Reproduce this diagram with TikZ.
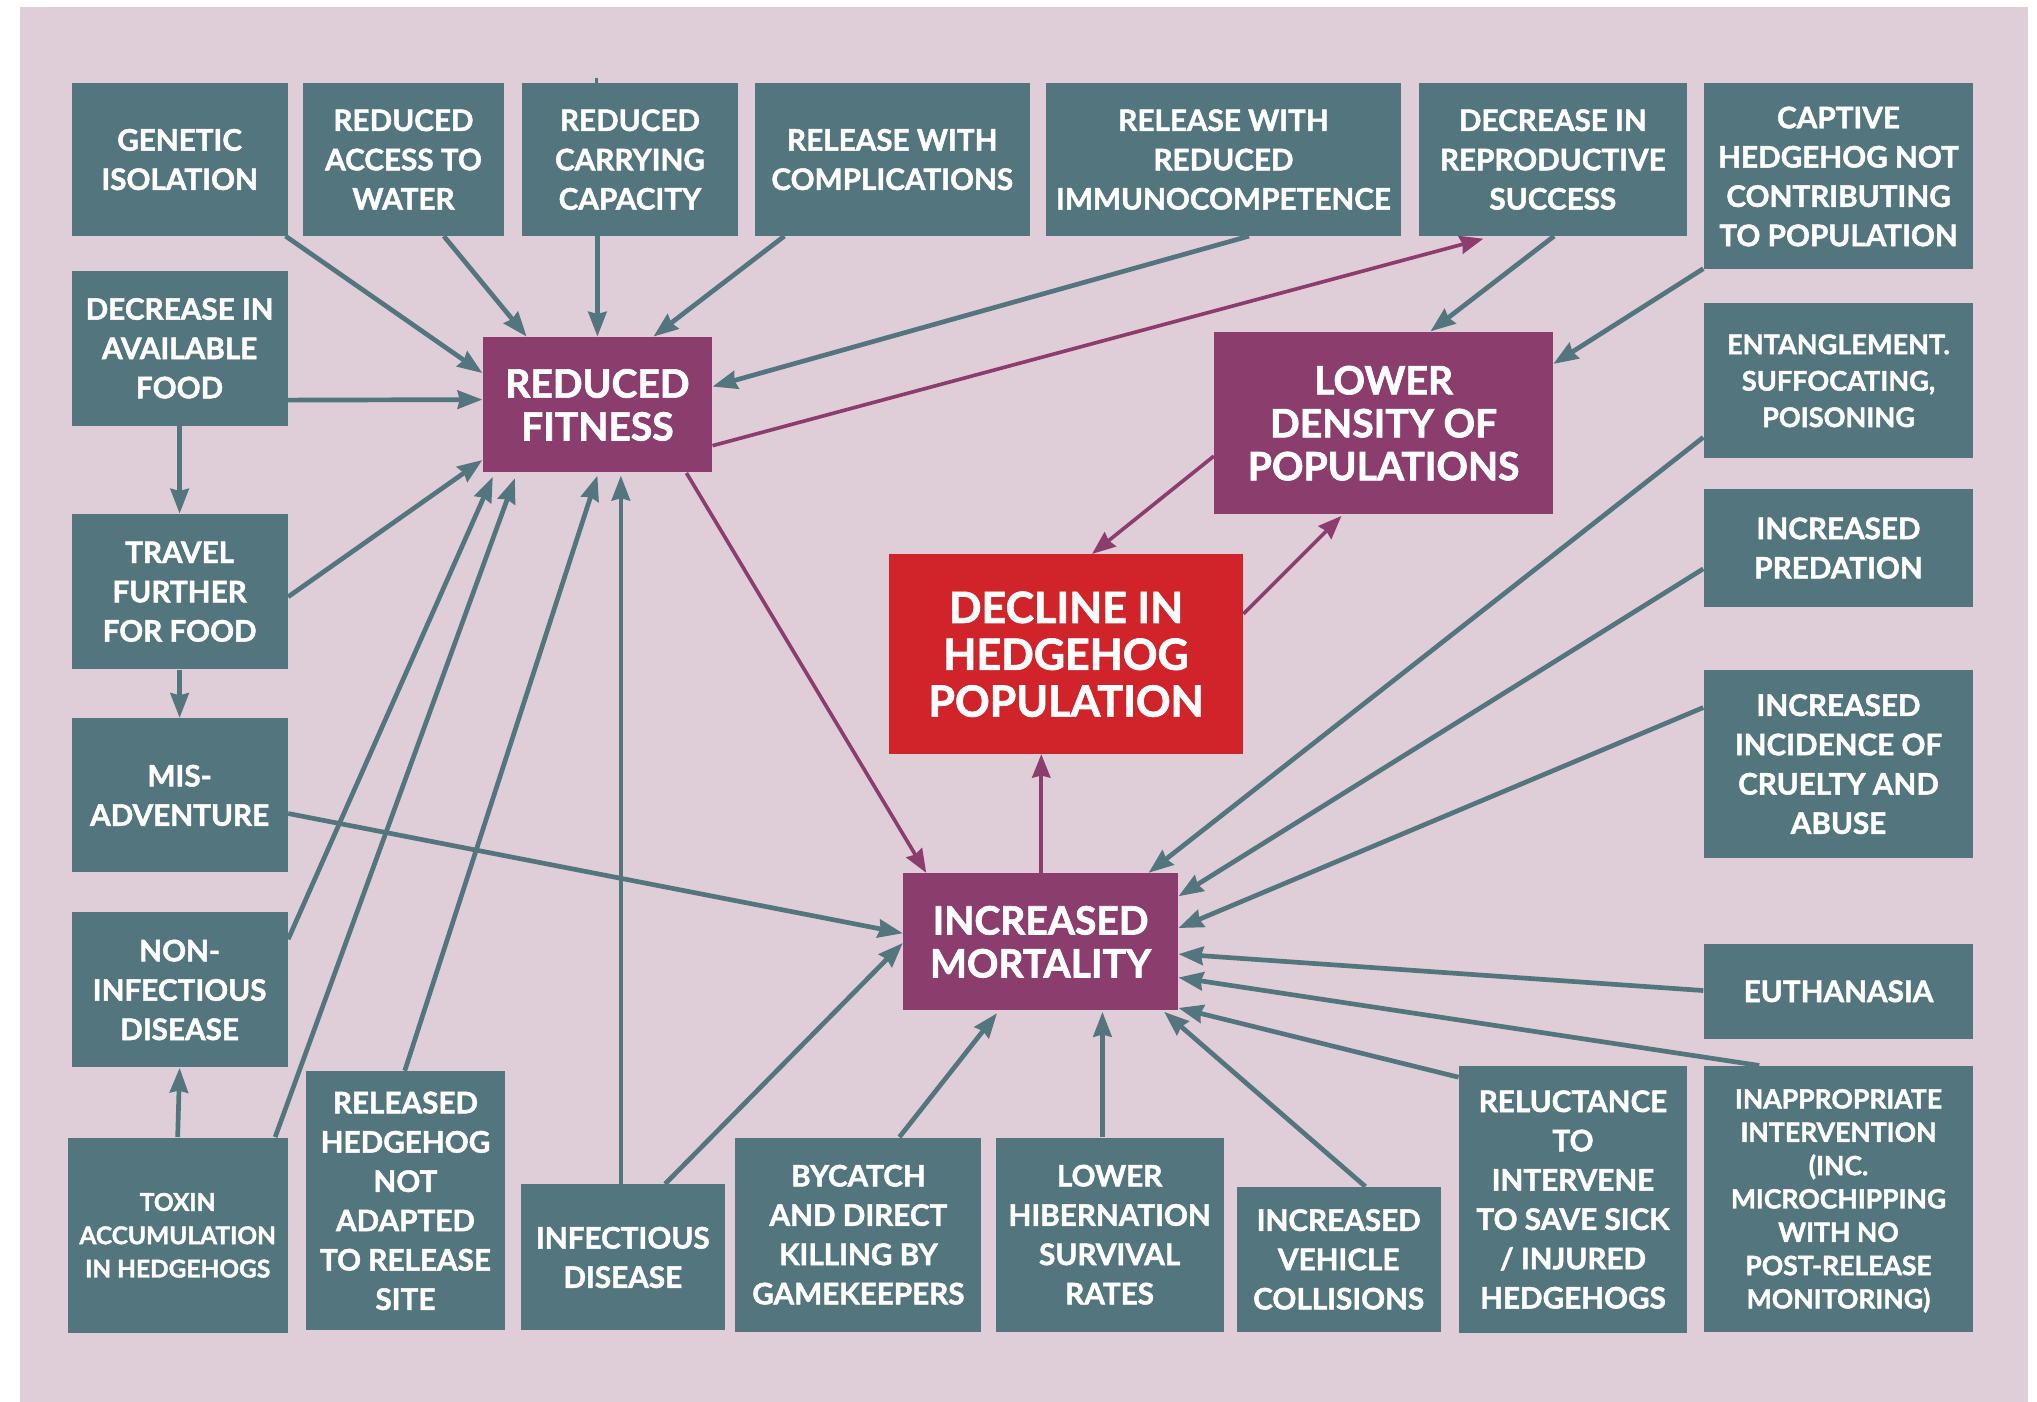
\documentclass[tikz,border=0pt]{standalone}
\usepackage{fontspec}
\setmainfont{Lato}[BoldFeatures={FakeBold=1.6}]
\usetikzlibrary{arrows.meta,calc}
\definecolor{bgp}{RGB}{223,205,216}
\definecolor{tl}{RGB}{82,117,126}
\definecolor{pu}{RGB}{139,62,110}
\definecolor{rd}{RGB}{209,35,42}
\tikzset{
 box/.style={fill=tl,text=white,align=center,inner sep=0pt,text depth=0pt,font=\bfseries\fontsize{11.4}{15.1}\selectfont},
 sbox/.style={box,font=\bfseries\fontsize{9.4}{12.8}\selectfont},
 ibox/.style={box,font=\bfseries\fontsize{10.2}{12.8}\selectfont},
 ebox/.style={box,font=\bfseries\fontsize{10.4}{14}\selectfont},
 pbox/.style={fill=pu,text=white,align=center,inner sep=0pt,text depth=0pt,font=\bfseries\fontsize{15}{16.5}\selectfont},
 rbox/.style={fill=rd,text=white,align=center,inner sep=0pt,text depth=0pt,font=\bfseries\fontsize{16.5}{18}\selectfont},
 ta/.style={draw=tl,line width=1.8pt,-{Stealth[length=9.5pt,width=7pt,inset=0.8pt]}},
 pa/.style={draw=pu,line width=1.4pt,-{Stealth[length=9pt,width=7pt,inset=0.8pt]}},
}
\newcommand{\bx}[7]{\node[#6,minimum width={(#4-#2)*0.5pt},minimum height={(#5-#3)*0.5pt}] (#1) at ({(#2+#4)/2},{(#3+#5)/2}) {#7};}
\begin{document}
\begin{tikzpicture}[x=0.5pt,y=-0.5pt]
\useasboundingbox (0,0) rectangle (1565,1077);
\fill[white] (0,0) rectangle (1565,1077);
\fill[bgp] (15,5) rectangle (1558,1077);
% top row
\bx{gen}{55}{64}{221}{181}{box}{GENETIC\\ISOLATION}
\bx{wat}{233}{64}{387}{181}{box}{REDUCED\\ACCESS TO\\WATER}
\bx{car}{401}{64}{567}{181}{box}{REDUCED\\CARRYING\\CAPACITY}
\bx{com}{580}{64}{791}{181}{box}{RELEASE WITH\\COMPLICATIONS}
\bx{imm}{804}{64}{1076}{181}{box}{RELEASE WITH\\REDUCED\\IMMUNOCOMPETENCE}
\bx{rep}{1090}{64}{1296}{181}{box}{DECREASE IN\\REPRODUCTIVE\\SUCCESS}
\bx{cap}{1309}{64}{1516}{207}{box}{CAPTIVE\\HEDGEHOG NOT\\CONTRIBUTING\\TO POPULATION}
% right column
\bx{ent}{1309}{233}{1516}{352}{ebox}{ENTANGLEMENT.\\SUFFOCATING,\\POISONING}
\bx{pred}{1309}{376}{1516}{466}{box}{INCREASED\\PREDATION}
\bx{cru}{1309}{515}{1516}{659}{box}{INCREASED\\INCIDENCE OF\\CRUELTY AND\\ABUSE}
\bx{eut}{1309}{725}{1516}{798}{box}{EUTHANASIA}
\bx{inap}{1309}{819}{1516}{1023}{ibox}{INAPPROPRIATE\\INTERVENTION\\(INC.\\MICROCHIPPING\\WITH NO\\POST-RELEASE\\MONITORING)}
% bottom row
\bx{rel}{1121}{819}{1296}{1024}{box}{RELUCTANCE\\TO\\INTERVENE\\TO SAVE SICK\\/ INJURED\\HEDGEHOGS}
\bx{veh}{950}{912}{1107}{1023}{box}{INCREASED\\VEHICLE\\COLLISIONS}
\bx{hib}{765}{874}{940}{1023}{box}{LOWER\\HIBERNATION\\SURVIVAL\\RATES}
\bx{byc}{565}{874}{754}{1023}{box}{BYCATCH\\AND DIRECT\\KILLING BY\\GAMEKEEPERS}
\bx{inf}{400}{910}{557}{1022}{box}{INFECTIOUS\\DISEASE}
\bx{rhn}{235}{823}{388}{1022}{box}{RELEASED\\HEDGEHOG\\NOT\\ADAPTED\\TO RELEASE\\SITE}
\bx{tox}{52}{874}{221}{1024}{sbox}{TOXIN\\ACCUMULATION\\IN HEDGEHOGS}
% left column
\bx{non}{55}{701}{221}{820}{box}{NON-\\INFECTIOUS\\DISEASE}
\bx{mis}{55}{552}{221}{670}{box}{MIS-\\ADVENTURE}
\bx{trv}{55}{395}{221}{514}{box}{TRAVEL\\FURTHER\\FOR FOOD}
\bx{food}{55}{208}{221}{327}{box}{DECREASE IN\\AVAILABLE\\FOOD}
% central
\bx{rf}{371}{259}{547}{363}{pbox}{REDUCED\\FITNESS}
\bx{ld}{933}{255}{1193}{395}{pbox}{LOWER\\DENSITY OF\\POPULATIONS}
\bx{dec}{683}{426}{955}{579}{rbox}{DECLINE IN\\HEDGEHOG\\POPULATION}
\bx{im}{694}{671}{905}{776}{pbox}{INCREASED\\MORTALITY}
% small tick above carrying capacity
\draw[tl,line width=1.2pt] ($(car.north)+(-26,0)$) -- ($(car.north)+(-26,-4)$);
% arrows into reduced fitness
\draw[ta] ($(gen.south east)+(-2,0)$) -- ($(rf.north west)+(0,28)$);
\draw[ta] ($(wat.south)+(31,0)$) -- ($(rf.north west)+(34,0)$);
\draw[ta] ($(car.south)+(-25,0)$) -- (rf.north);
\draw[ta] ($(com.south west)+(23,0)$) -- ($(rf.north)+(43,0)$);
\draw[ta] ($(imm.south west)+(156,0)$) -- ($(rf.east)+(0,-14)$);
\draw[ta] ($(food.south east)+(0,-20)$) -- ($(rf.west)+(0,-4)$);
\draw[ta] (food.south) -- (trv.north);
\draw[ta] ($(trv.east)+(0,4)$) -- ($(rf.south west)+(0,-10)$);
\draw[ta] (trv.south) -- (mis.north);
\draw[ta] ($(non.north east)+(0,21)$) -- ($(rf.south west)+(8,3)$);
\draw[ta] ($(tox.north east)+(-10,0)$) -- ($(rf.south west)+(25,4)$);
\draw[ta] (tox.north) -- (non.south);
\draw[ta] ($(rhn.north)+(-0.5,0)$) -- ($(rf.south)+(0,2)$);
\draw[ta] ($(inf.north)+(-1.5,0)$) -- ($(rf.south)+(18,2)$);
% arrows into increased mortality
\draw[ta] ($(mis.east)+(0,14)$) -- ($(im.west)+(0,-6.5)$);
\draw[ta] ($(inf.north)+(32.5,0)$) -- ($(im.west)+(0,1)$);
\draw[ta] ($(byc.north)+(31.5,0)$) -- ($(im.south)+(-33.5,2)$);
\draw[ta] ($(hib.north)+(-5.5,0)$) -- ($(im.south)+(47.5,1)$);
\draw[ta] ($(veh.north)+(20.5,0)$) -- ($(im.south east)+(-11,1)$);
\draw[ta] ($(rel.north west)+(0,9)$) -- ($(im.south east)+(0,-2)$);
\draw[ta] ($(inap.north west)+(43,0)$) -- ($(im.east)+(0,27.5)$);
\draw[ta] ($(eut.west)+(0,-0.5)$) -- ($(im.east)+(0,9.5)$);
\draw[ta] ($(cru.north west)+(0,29)$) -- ($(im.east)+(0,-10.5)$);
\draw[ta] ($(pred.west)+(0,16)$) -- ($(im.north east)+(0,18)$);
\draw[ta] ($(ent.west)+(0,43.5)$) -- ($(im.north east)+(-23,0)$);
% arrows into lower density
\draw[ta] ($(rep.south)+(1,0)$) -- ($(ld.north)+(36,0)$);
\draw[ta] ($(cap.south west)+(0,-1)$) -- ($(ld.north east)+(0,25)$);
% purple arrows
\draw[pa] ($(rf.south east)+(0,-21)$) -- ($(rep.south west)+(50,2)$);
\draw[pa] ($(rf.south east)+(-20,0)$) -- ($(im.north west)+(18,0)$);
\draw[pa] ($(ld.south west)+(0,-45)$) -- ($(dec.north)+(20,0)$);
\draw[pa] ($(dec.north east)+(0,46)$) -- ($(ld.south west)+(98,1)$);
\draw[pa] ($(im.north)+(0.5,0)$) -- ($(dec.south)+(-19,0)$);
\end{tikzpicture}
\end{document}
